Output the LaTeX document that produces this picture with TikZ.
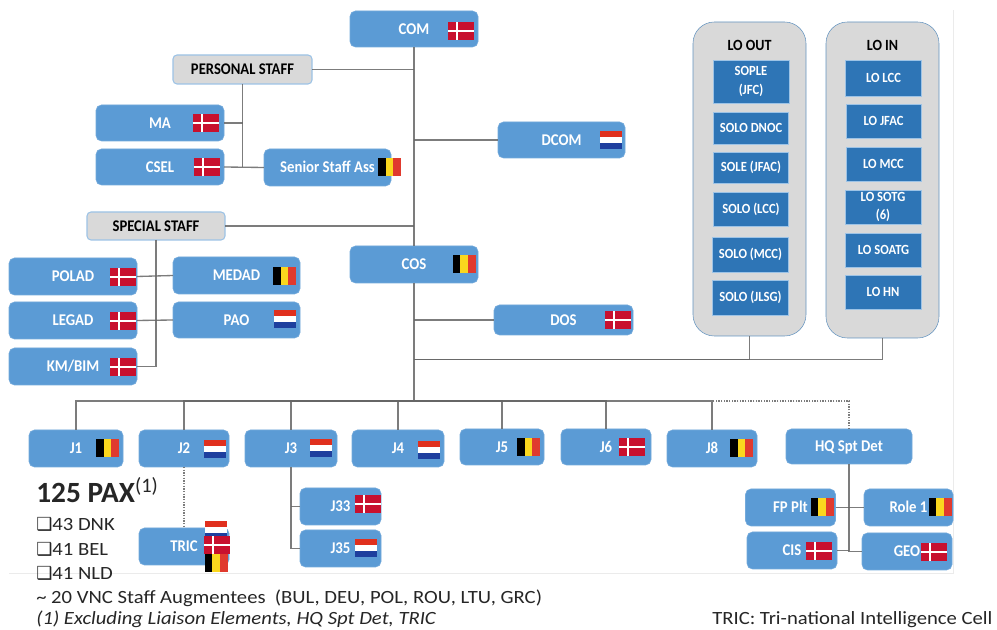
\documentclass[tikz,border=0pt]{standalone}
\usepackage{fontspec}
\usetikzlibrary{scopes}
\setmainfont{Carlito}
\newfontfamily\symfont{DejaVu Sans}
\newfontfamily\widefont[FakeStretch=1.107]{Carlito}
\newfontfamily\narrowfont[FakeStretch=0.9]{Carlito}
\definecolor{unitblue}{HTML}{5B9BD5}
\definecolor{loblue}{HTML}{2E75B6}
\definecolor{panelgray}{HTML}{D9D9D9}
\definecolor{dkred}{HTML}{C8102E}
\definecolor{belred}{HTML}{E03A2E}
\definecolor{belyellow}{HTML}{FAD71E}
\definecolor{nldred}{HTML}{E0301E}
\definecolor{nldblue}{HTML}{1E3F9E}

\begin{document}
\begin{tikzpicture}[
    x=0.75pt,y=-0.75pt,
    wh/.style 2 args={minimum width=#1*0.75pt,minimum height=#2*0.75pt},
    unit/.style={rectangle,rounded corners=4pt,draw=unitblue!85!white,fill=unitblue,text=white,inner sep=0pt,outer sep=0pt,text height=8pt,text depth=0pt,font=\narrowfont\fontsize{12.3}{14}\selectfont\bfseries},
    staff/.style={rectangle,rounded corners=3pt,draw=unitblue!60!white,fill=panelgray,text=black,thick,inner sep=0pt,outer sep=0pt,text height=8pt,text depth=0pt,font=\narrowfont\fontsize{12.2}{14}\selectfont\bfseries},
    panel/.style={rectangle,rounded corners=16pt,draw=unitblue!75!gray,fill=panelgray,inner sep=0pt,outer sep=0pt},
    panellabel/.style={anchor=center,font=\narrowfont\fontsize{11.7}{14}\selectfont\bfseries},
    lo/.style={rectangle,draw=unitblue!60!white,fill=loblue,text=white,align=center,inner sep=0pt,outer sep=0pt,font=\narrowfont\fontsize{10.5}{14}\selectfont\bfseries},
    link/.style={draw=black!60,draw opacity=0.85,line width=1pt},
    dotlink/.style={draw=black!60,draw opacity=0.85,line width=1pt,densely dotted},
    note/.style={anchor=base west,inner sep=0pt,text=black!85,font=\widefont\fontsize{14}{16}\selectfont},
    dnk/.pic={
        \fill[dkred] (-13,-9) rectangle (13,9);
        \fill[white] (-5,-9) rectangle (-3,9);
        \fill[white] (-13,-1) rectangle (13,1);
    },
    bel/.pic={
        \fill[black] (-11.5,-9) rectangle (-3.8,9);
        \fill[belyellow] (-3.8,-9) rectangle (3.8,9);
        \fill[belred] (3.8,-9) rectangle (11.5,9);
    },
    nld/.pic={
        \fill[nldred] (-11,-9) rectangle (11,-3);
        \fill[white] (-11,-3) rectangle (11,3);
        \fill[nldblue] (-11,3) rectangle (11,9);
    },
]
    \path[use as bounding box,fill=white] (0,0) rectangle (997,630);
    \draw[black!8] (9,573) -- (953,573) -- (953,10);

    % Command group
    \node[unit,wh={128}{36}] (com) at (414,29) {COM};
    \node[staff,wh={139}{29}] (personal) at (242.5,69.5) {PERSONAL STAFF};
    \node[unit,wh={128}{36}] (ma) at (160,123) {MA};
    \node[unit,wh={128}{36}] (csel) at (160,167) {CSEL};
    \node[unit,wh={127}{37}] (senior) at (327.5,167.5) {Senior Staff Ass};
    \node[unit,wh={127}{36}] (dcom) at (561.5,140) {DCOM};
    \node[staff,wh={138}{28}] (special) at (156,226) {SPECIAL STAFF};
    \node[unit,wh={128}{37}] (polad) at (73,276.5) {POLAD};
    \node[unit,wh={128}{37}] (legad) at (73,320.5) {LEGAD};
    \node[unit,wh={128}{37}] (kmbim) at (73,366.5) {KM/BIM};
    \node[unit,wh={127}{37}] (medad) at (236.5,275.5) {MEDAD};
    \node[unit,wh={127}{36}] (pao) at (236.5,320) {PAO};
    \node[unit,wh={128}{37}] (cos) at (414,264.5) {COS};
    \node[unit,wh={139}{30}] (dos) at (563.5,320) {DOS};

    % Liaison panels
    \node[panel,wh={113}{314}] (loout) at (749.5,179) {};
    \node[panel,wh={113}{316}] (loin) at (882.5,180) {};
    \node[panellabel] (looutlabel) at (749.5,45) {LO OUT};
    \node[panellabel] (loinlabel) at (882.5,45) {LO IN};
    \node[lo,wh={76}{43}] (sople) at (751,81.5) {SOPLE\\(JFC)};
    \node[lo,wh={75}{32}] (dnoc) at (751,128) {SOLO DNOC};
    \node[lo,wh={75}{31}] (sole) at (751,167.5) {SOLE (JFAC)};
    \node[lo,wh={75}{34}] (sololcc) at (751,209) {SOLO (LCC)};
    \node[lo,wh={76}{35}] (solomcc) at (750.5,254.5) {SOLO (MCC)};
    \node[lo,wh={76}{35}] (jlsg) at (750.5,297.5) {SOLO (JLSG)};
    \node[lo,wh={76}{36}] (lolcc) at (883.5,78) {LO LCC};
    \node[lo,wh={75}{34}] (lojfac) at (883.5,121) {LO JFAC};
    \node[lo,wh={75}{34}] (lomcc) at (883.5,164) {LO MCC};
    \node[lo,wh={76}{34}] (sotg) at (883,207) {LO SOTG\\(6)};
    \node[lo,wh={76}{34}] (soatg) at (883.5,250) {LO SOATG};
    \node[lo,wh={76}{34}] (lohn) at (883,292) {LO HN};

    % J staff row
    \node[unit,wh={94}{37}] (j1) at (76,448.5) {J1};
    \node[unit,wh={90}{37}] (j2) at (184,448.5) {J2};
    \node[unit,wh={92}{37}] (j3) at (291,448.5) {J3};
    \node[unit,wh={92}{37}] (j4) at (398,448.5) {J4};
    \node[unit,wh={84}{36}] (j5) at (502,447) {J5};
    \node[unit,wh={90}{36}] (j6) at (606,447) {J6};
    \node[unit,wh={90}{37}] (j8) at (712,448.5) {J8};
    \node[unit,wh={126}{35}] (hq) at (849,446.5) {HQ Spt Det};
    \node[unit,wh={90}{37}] (tric) at (184,546.5) {TRIC};
    \node[unit,wh={81}{37}] (j33) at (340.5,506.5) {J33};
    \node[unit,wh={81}{37}] (j35) at (340.5,548.5) {J35};
    \node[unit,wh={90}{37}] (fpplt) at (790.5,507.5) {FP Plt};
    \node[unit,wh={89}{37}] (role) at (908.5,507.5) {Role 1};
    \node[unit,wh={90}{37}] (cis) at (792,550.5) {CIS};
    \node[unit,wh={90}{37}] (geo) at (907,551.5) {GEO};

    % Flags
    \pic at (461,31) {dnk};
    \pic at (206,123) {dnk};
    \pic at (206.5,167) {dnk};
    \pic at (389.5,167) {bel};
    \pic at (611,140) {nld};
    \pic at (123,277) {dnk};
    \pic at (123,321) {dnk};
    \pic at (123,367) {dnk};
    \pic at (284.5,276) {bel};
    \pic at (285,319.5) {nld};
    \pic at (464,264) {bel};
    \pic at (618,320.5) {dnk};
    \pic at (107.5,448.5) {bel};
    \pic at (215,449.5) {nld};
    \pic at (321,448.5) {nld};
    \pic at (428.5,450.5) {nld};
    \pic at (528.5,447) {bel};
    \pic at (632,447) {dnk};
    \pic at (741.5,448.5) {bel};
    \pic at (216,530) {nld};
    \pic at (216.5,545.5) {dnk};
    \pic at (216,563.5) {bel};
    \pic at (367.5,504) {dnk};
    \pic at (366,548.5) {nld};
    \pic at (822,507) {bel};
    \pic at (940,507) {bel};
    \pic at (819,551) {dnk};
    \pic at (934,552) {dnk};

    % Trunk and branches
    \coordinate (bus) at (414,401);
    \draw[link] (com.south) -- (cos.north);
    \draw[link] (cos.south) -- (bus);
    \draw[link] (personal.east) -- (personal -| com);
    \draw[link] (dcom.west) -- (dcom -| com);
    \draw[link] (special.east) -- (special -| com);
    \draw[link] (dos.west) -- (dos -| com);
    \coordinate (lobus) at (414,359.5);
    \draw[link] (loout.south) |- (lobus);
    \draw[link] (loin.south) |- (lobus);
    \draw[link] (personal.south) -- (csel -| personal);
    \draw[link] (ma.east) -- (ma -| personal);
    \draw[link] (csel.east) -- (senior.west);
    \draw[link] (special.south) |- (kmbim.east);
    \draw[link] (polad.east) -- (medad.west);
    \draw[link] (legad.east) -- (pao.west);
    {[link]
        \draw (j1.north) |- (bus);
        \draw (j2.north) |- (bus);
        \draw (j3.north) |- (bus);
        \draw (j4.north) |- (bus);
        \draw (j5.north) |- (bus);
        \draw (j6.north) |- (bus);
        \draw (j8.north) |- (bus);
    }
    \draw[dotlink] (hq.north) |- (j8.north |- bus);
    \draw[dotlink] (j2.south) -- (tric.north);
    \draw[link] (j3.south) |- (j35.west);
    \draw[link] (j33.west) -- (j33 -| j3);
    \draw[link] (hq.south) |- (geo.west);
    \draw[link] (fpplt.east) -- (role.west);
    \draw[link] (cis.east) -- (cis -| hq);

    % Strength notes
    \node[note,font=\fontsize{22}{24}\selectfont\bfseries] (pax) at (36,503) {125 PAX\textsuperscript{\normalfont(1)}};
    \node[note] (dnknote) at (36,531) {{\symfont\fontsize{13.5}{14}\selectfont ❑}43 DNK};
    \node[note] (belnote) at (36,555.5) {{\symfont\fontsize{13.5}{14}\selectfont ❑}41 BEL};
    \node[note] (nldnote) at (36,580) {{\symfont\fontsize{13.5}{14}\selectfont ❑}41 NLD};
    \node[note] (vnc) at (36,604) {\textasciitilde{} 20 VNC Staff Augmentees\ \ (BUL, DEU, POL, ROU, LTU, GRC)};
    \node[note,font=\widefont\fontsize{14}{16}\selectfont\itshape] (excl) at (36,625) {(1) Excluding Liaison Elements, HQ Spt Det, TRIC};
    \node[note] (tricnote) at (712,625) {TRIC: Tri-national Intelligence Cell};
\end{tikzpicture}
\end{document}
